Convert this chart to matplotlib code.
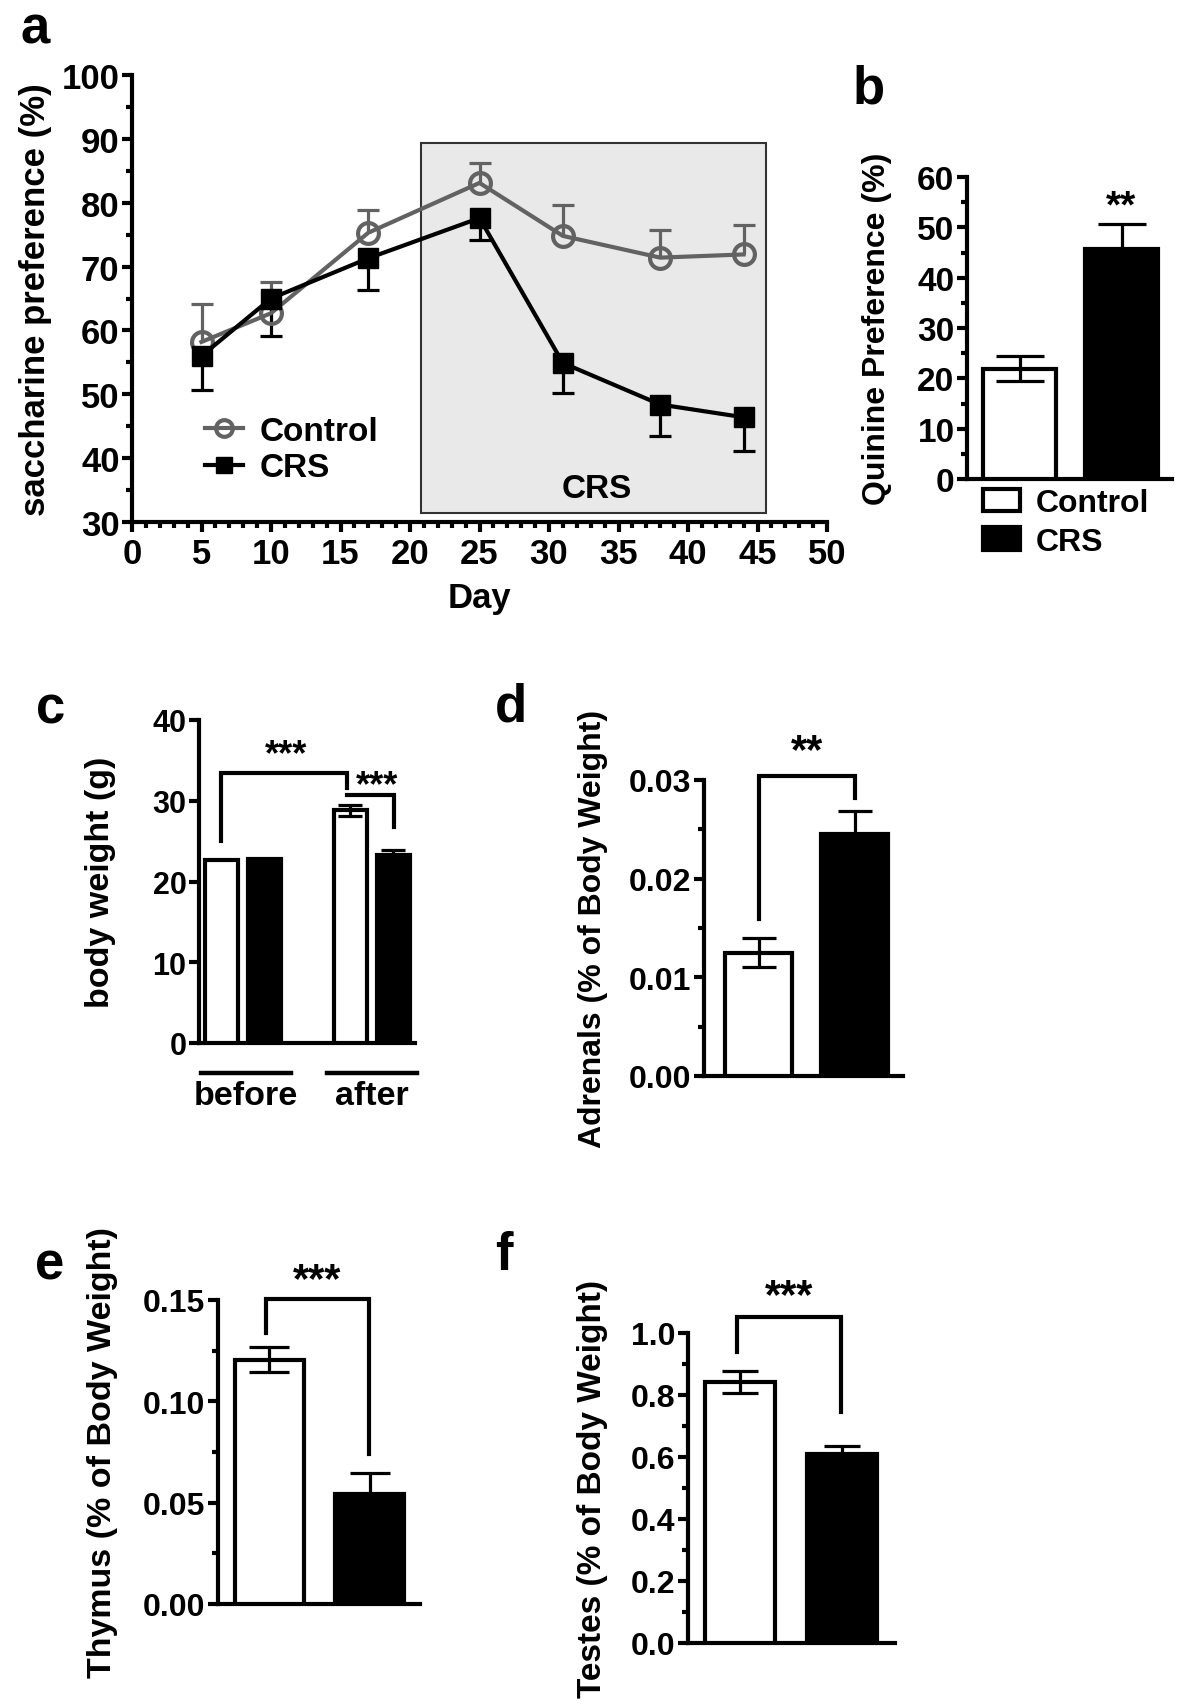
import numpy as np
import matplotlib.pyplot as plt
from matplotlib.patches import Rectangle, Patch
from matplotlib.transforms import ScaledTranslation

plt.rcParams['font.family'] = ['Liberation Sans', 'DejaVu Sans']
plt.rcParams['font.weight'] = 'bold'
plt.rcParams['axes.labelweight'] = 'bold'

W, H = 1200, 1706
GRAY = '#626262'

# ---- data ----
days = [5, 10, 17, 25, 31, 38, 44]
ctrl_pref = [58.2, 62.7, 75.3, 83.1, 74.8, 71.4, 71.9]
ctrl_pref_err = [5.9, 4.9, 3.6, 3.1, 4.9, 4.3, 4.6]
crs_pref = [56.0, 65.0, 71.3, 77.6, 54.9, 48.4, 46.4]
crs_pref_err = [5.3, 5.8, 4.9, 3.4, 4.7, 5.0, 5.3]
crs_period = [20.8, 45.6]

groups = ['Control', 'CRS']
quinine = [21.9, 45.6]
quinine_err = [2.5, 5.1]

bw_groups = ['before', 'after']
bw_mean = [22.7, 22.8, 28.8, 23.3]
bw_err = [0.0, 0.0, 0.7, 0.6]

adrenals = [0.0125, 0.0245]
adrenals_err = [0.0015, 0.0024]
thymus = [0.1206, 0.0545]
thymus_err = [0.0063, 0.0102]
testes = [0.843, 0.611]
testes_err = [0.036, 0.026]

fig = plt.figure(figsize=(W / 100, H / 100), dpi=100)
star_shift = ScaledTranslation(0, -7 / 100, fig.dpi_scale_trans)


def px_axes(l, t, r, b):
    return fig.add_axes([l / W, 1 - b / H, (r - l) / W, (b - t) / H])


def style(ax, lw=3):
    for s in ['top', 'right']:
        ax.spines[s].set_visible(False)
    for s in ['left', 'bottom']:
        ax.spines[s].set_linewidth(lw)
    ax.tick_params(width=lw, length=7, direction='out')
    ax.tick_params(which='minor', width=lw, length=4.5)


def err(ax, x, y, lo, hi, cap, color='black', lw=2.3):
    ax.plot([x, x], [y - lo, y + hi], color=color, lw=lw, zorder=4, solid_capstyle='butt')
    if hi > 0:
        ax.plot([x], [y + hi], marker='_', ms=cap, mew=lw, color=color, zorder=4)
    if lo > 0:
        ax.plot([x], [y - lo], marker='_', ms=cap, mew=lw, color=color, zorder=4)


def bars(ax, xs, vals, errs, width, cap, both):
    colors = ['white', 'black'] * (len(vals) // 2)
    ax.bar(xs, vals, width=width, color=colors, edgecolor='black', linewidth=3, zorder=3)
    for i, (x, v, e) in enumerate(zip(xs, vals, errs)):
        if e > 0:
            err(ax, x, v, e if (both and i % 2 == 0) else 0, e, cap)


def bracket(ax, x1, x2, top, y1, y2, lw=3):
    xs, ys = [x1, x1, x2, x2], [y1, top, top, y2]
    if y1 is None:
        xs, ys = xs[1:], ys[1:]
    ax.plot(xs, ys, color='black', lw=lw, zorder=5, solid_joinstyle='miter', clip_on=False)


def stars(ax, x, y, s, size):
    ax.text(x, y, s, fontsize=size, ha='center', va='center',
            transform=ax.transData + star_shift)


def ylabel(ax, text, xpx, l, r, size):
    ax.set_ylabel(text, fontsize=size, va='center')
    ax.yaxis.set_label_coords((xpx - l) / (r - l), 0.5)


# ---- panel a ----
ax = px_axes(132, 76, 827, 523)
style(ax)
ax.add_patch(Rectangle((crs_period[0], 31.4), crs_period[1] - crs_period[0], 58.0,
                       facecolor='#e9e9e9', edgecolor='#333333', lw=1.5, zorder=0))
ax.text(33.4, 35.2, 'CRS', fontsize=24, ha='center', va='center')
for d, m, e in zip(days, ctrl_pref, ctrl_pref_err):
    err(ax, d, m, 0, e, 16, color=GRAY)
for d, m, e in zip(days, crs_pref, crs_pref_err):
    err(ax, d, m, e, 0, 16)
ax.plot(days, ctrl_pref, color=GRAY, lw=3, marker='o', ms=15, mfc='none', mew=3,
        label='Control', zorder=5)
ax.plot(days, crs_pref, color='black', lw=3, marker='s', ms=14, label='CRS', zorder=6)
ax.set_xlim(0, 50)
ax.set_ylim(30, 100)
ax.set_xticks(np.arange(0, 51, 5))
ax.set_xticks(np.arange(0, 51, 1), minor=True)
ax.set_yticks(np.arange(30, 101, 10))
ax.set_yticks(np.arange(35, 100, 10), minor=True)
ax.tick_params(labelsize=25, pad=2)
ax.tick_params(axis='x', pad=4)
ax.set_xlabel('Day', fontsize=25, labelpad=8)
ylabel(ax, 'saccharine preference (%)', 36, 132, 827, 25)
ax.legend(loc='center left', bbox_to_anchor=(0.105, 0.162), frameon=False, fontsize=24,
          borderpad=0, borderaxespad=0, handlelength=1.15, handletextpad=0.5,
          labelspacing=0.16, markerscale=0.8, numpoints=1)

# ---- panel b ----
ax = px_axes(967, 178, 1172, 480)
style(ax)
bars(ax, [0, 1], quinine, quinine_err, 0.715, 34, True)
stars(ax, 1, 55.6, '**', 28)
ax.set_xlim(-0.515, 1.495)
ax.set_ylim(0, 60)
ax.set_xticks([])
ax.set_yticks(np.arange(0, 61, 10))
ax.set_yticks(np.arange(5, 60, 10), minor=True)
ax.tick_params(labelsize=24, pad=2)
ylabel(ax, 'Quinine Preference (%)', 877, 967, 1172, 23)
handles = [Patch(facecolor=c, edgecolor='black', lw=3) for c in ['white', 'black']]
ax.legend(handles, groups, loc='upper left', bbox_to_anchor=((983 - 967) / 205, -0.03),
          frameon=False, fontsize=23, borderpad=0, borderaxespad=0, handlelength=1.15,
          handleheight=0.7, handletextpad=0.5, labelspacing=0.27)

# ---- panel c ----
ax = px_axes(199, 721, 415, 1044)
style(ax)
xs = [0, 1, 3, 4]
bars(ax, xs, bw_mean, bw_err, 0.77, 17, True)
bracket(ax, 0, 2.92, 33.4, 25.0, 31.6)
bracket(ax, 2.92, 4.02, 30.7, None, 26.7)
stars(ax, 1.5, 36.6, '***', 26)
stars(ax, 3.62, 32.7, '***', 26)
trans = ax.get_xaxis_transform()
for (x1, x2), name in zip([(-0.46, 1.62), (2.46, 4.54)], bw_groups):
    ax.plot([x1, x2], [-0.093, -0.093], color='black', lw=3.2, transform=trans, clip_on=False)
    ax.text((x1 + x2) / 2, -0.164, name, fontsize=24.5, ha='center', va='center', transform=trans)
ax.set_xlim(-0.515, 4.5)
ax.set_ylim(0, 40)
ax.set_xticks([])
ax.set_yticks(np.arange(0, 41, 10))
ax.tick_params(labelsize=22, pad=2)
ylabel(ax, 'body weight (g)', 100, 199, 415, 24.5)

# ---- panels d, e, f ----
organ_panels = [
    ((704, 781, 903, 1077), adrenals, adrenals_err, 'Adrenals (% of Body Weight)', 593,
     (-0.566, 1.5), 0.03, 0.01, '%.2f', (0, 1, 0.03044, 0.01593, 0.0282), '**', 0.0336, 0.695, 24, 23),
    ((218, 1301, 420, 1605), thymus, thymus_err, 'Thymus (% of Body Weight)', 103,
     (-0.507, 1.497), 0.15, 0.05, '%.2f', (-0.03, 0.99, 0.1507, 0.1337, 0.0738), '***', 0.1635, 0.685, 29, 24.5),
    ((688, 1334, 895, 1644), testes, testes_err, 'Testes (% of Body Weight)', 592,
     (-0.505, 1.515), 1.0, 0.2, '%.1f', (-0.03, 0.99, 1.051, 0.938, 0.746), '***', 1.141, 0.684, 26, 24),
]
for box, vals, errs, lab, lx, xl, ymax, step, fmt, br, st, sy, width, cap, labsize in organ_panels:
    ax = px_axes(*box)
    style(ax)
    bars(ax, [0, 1], vals, errs, width, cap, True)
    bracket(ax, br[0], br[1], br[2], br[3], br[4])
    stars(ax, (br[0] + br[1]) / 2, sy, st, 30)
    ax.set_xlim(*xl)
    ax.set_ylim(0, ymax)
    ax.set_xticks([])
    ticks = np.arange(0, ymax + step / 2, step)
    ax.set_yticks(ticks)
    ax.set_yticklabels([fmt % t for t in ticks])
    ax.set_yticks(ticks[:-1] + step / 2, minor=True)
    ax.tick_params(labelsize=23, pad=2)
    ylabel(ax, lab, lx, box[0], box[2], labsize)

# panel letters
for letter, x, y in [('a', 20, 44), ('b', 853, 103), ('c', 36, 724),
                     ('d', 495, 722), ('e', 35, 1280), ('f', 495, 1270)]:
    fig.text(x / W, 1 - y / H, letter, fontsize=38, fontweight='bold', ha='left', va='baseline')

fig.savefig('out.png', dpi=100)
